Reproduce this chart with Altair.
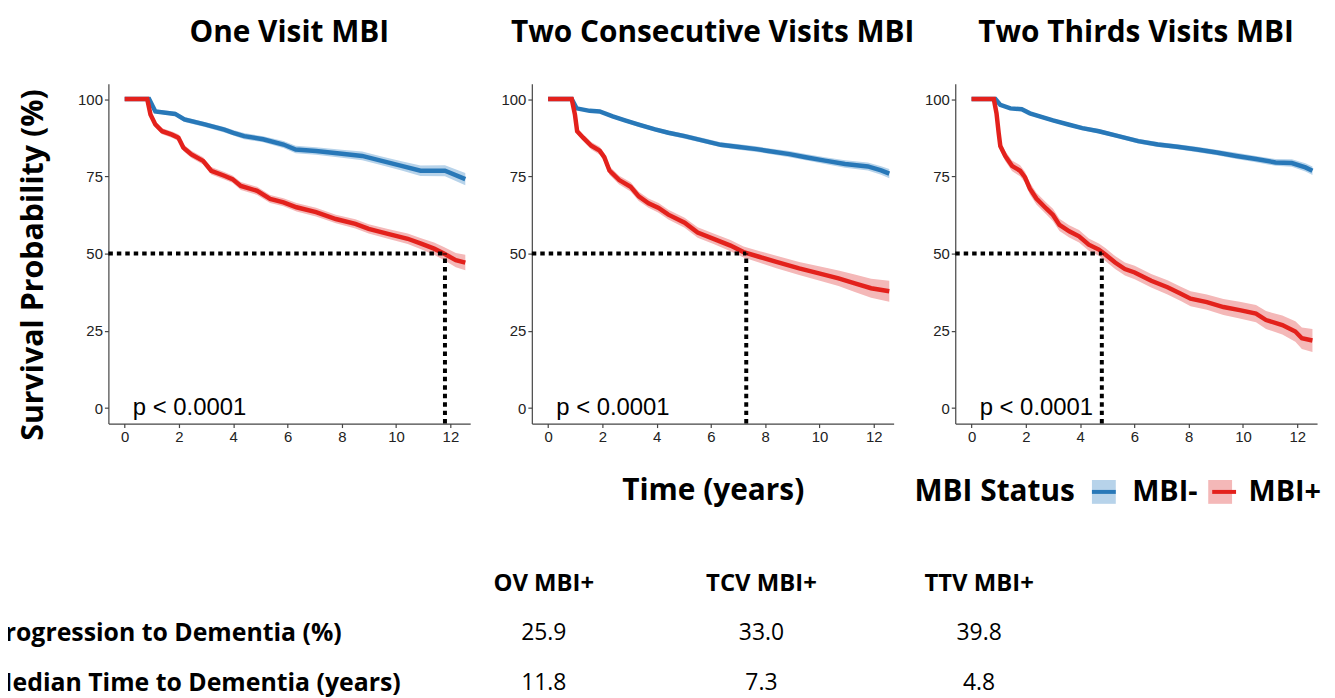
import altair as alt
import pandas as pd

# ---------------- data ----------------
panel_titles = ["One Visit MBI", "Two Consecutive Visits MBI", "Two Thirds Visits MBI"]
status_levels = ["MBI-", "MBI+"]
p_value_labels = ["p < 0.0001", "p < 0.0001", "p < 0.0001"]
median_times = [11.8, 7.3, 4.8]

# Panel 1 : One Visit MBI
p1_neg_t = [0, 0.9, 1.13, 1.86, 2.2, 2.95, 3.67, 4.0, 4.4, 5.1, 5.85, 6.3, 7.05, 8.0, 8.75, 9.47, 10.2, 10.9, 11.8, 12.55]
p1_neg_s = [100, 100, 96, 95.2, 93.4, 91.8, 90.1, 89.1, 88.0, 87.0, 85.3, 83.7, 83.2, 82.3, 81.6, 80.0, 78.4, 76.8, 76.8, 74.1]
p1_neg_ci = [0, 0, 0.6, 0.7, 0.8, 0.8, 0.9, 0.9, 1.0, 1.0, 1.1, 1.2, 1.2, 1.3, 1.4, 1.4, 1.5, 1.7, 1.8, 2.0]
p1_pos_t = [0, 0.83, 0.95, 1.13, 1.38, 1.74, 1.98, 2.16, 2.46, 2.89, 3.19, 3.67, 3.97, 4.28, 4.88, 5.36, 5.85, 6.33, 7.05, 7.78, 8.5, 8.99, 9.7, 10.43, 10.92, 11.4, 11.76, 12.2, 12.55]
p1_pos_s = [100, 100, 95, 91.8, 89.6, 88.5, 87.5, 84.3, 82.1, 80.0, 76.8, 75.2, 74.1, 71.9, 70.3, 67.7, 66.6, 65.0, 63.4, 61.2, 59.6, 58.0, 56.4, 54.8, 53.2, 51.6, 50.0, 47.9, 47.1]
p1_pos_ci = [0, 0, 0.6, 0.8, 1.0, 1.0, 1.1, 1.1, 1.2, 1.2, 1.2, 1.2, 1.2, 1.3, 1.3, 1.3, 1.3, 1.4, 1.4, 1.4, 1.5, 1.5, 1.6, 1.7, 1.8, 2.0, 2.1, 2.3, 2.5]

# Panel 2 : Two Consecutive Visits MBI
p2_neg_t = [0, 0.87, 1.05, 1.53, 1.9, 2.38, 2.86, 3.34, 3.94, 4.43, 5.03, 5.75, 6.36, 6.96, 7.68, 8.05, 8.89, 9.49, 10.2, 10.94, 11.78, 12.27, 12.57]
p2_neg_s = [100, 100, 97, 96.2, 96, 94.4, 93, 91.7, 90.2, 89.1, 88, 86.5, 85.2, 84.6, 83.8, 83.3, 82.2, 81.2, 80.1, 79, 78.2, 76.9, 75.9]
p2_neg_ci = [0, 0, 0.4, 0.5, 0.5, 0.6, 0.6, 0.7, 0.7, 0.7, 0.8, 0.8, 0.8, 0.9, 0.9, 0.9, 1.0, 1.0, 1.1, 1.2, 1.3, 1.4, 1.5]
p2_pos_t = [0, 0.87, 0.99, 1.07, 1.29, 1.59, 1.9, 2.07, 2.26, 2.62, 3.04, 3.34, 3.7, 4.07, 4.43, 5.03, 5.51, 6.12, 6.72, 7.2, 7.8, 8.41, 9.25, 9.98, 10.7, 11.3, 11.9, 12.57]
p2_pos_s = [100, 100, 94.9, 89.6, 87.5, 84.9, 83.3, 81.2, 76.9, 73.8, 71.6, 68.5, 66.3, 64.8, 62.6, 60, 56.8, 54.7, 52.6, 50.5, 48.9, 47.3, 45.2, 43.6, 42, 40.4, 38.8, 37.8]
p2_pos_ci = [0, 0, 0.7, 1.0, 1.1, 1.2, 1.3, 1.3, 1.4, 1.4, 1.5, 1.5, 1.5, 1.6, 1.6, 1.6, 1.7, 1.7, 1.8, 1.8, 1.9, 2.0, 2.1, 2.3, 2.5, 2.8, 3.1, 3.4]

# Panel 3 : Two Thirds Visits MBI
p3_neg_t = [0, 0.88, 1.06, 1.43, 1.85, 2.15, 2.51, 3.0, 3.6, 4.08, 4.69, 5.41, 6.14, 6.86, 7.58, 8.31, 9.03, 9.76, 10.48, 11.2, 11.8, 12.3, 12.56]
p3_neg_s = [100, 100, 98.1, 97, 96.7, 95.4, 94.4, 93.1, 91.7, 90.6, 89.6, 88, 86.4, 85.3, 84.6, 83.7, 82.7, 81.6, 80.6, 79.5, 79.3, 77.9, 76.8]
p3_neg_ci = [0, 0, 0.4, 0.5, 0.5, 0.5, 0.6, 0.6, 0.6, 0.7, 0.7, 0.7, 0.8, 0.8, 0.8, 0.9, 0.9, 1.0, 1.0, 1.1, 1.2, 1.3, 1.4]
p3_pos_t = [0, 0.82, 0.92, 1.0, 1.06, 1.24, 1.49, 1.79, 1.97, 2.15, 2.39, 2.75, 3.0, 3.24, 3.6, 3.96, 4.32, 4.69, 4.93, 5.29, 5.65, 6.01, 6.62, 7.22, 7.71, 8.07, 8.67, 9.28, 9.88, 10.48, 10.85, 11.45, 11.93, 12.17, 12.56]
p3_pos_s = [100, 100, 95.4, 89, 84.8, 81.6, 78.4, 76.8, 74.7, 71, 67.8, 64.6, 62.5, 59.3, 57.2, 55.6, 52.9, 51.3, 49.7, 47.1, 45, 43.9, 41.2, 39.1, 37, 35.4, 34.3, 32.7, 31.7, 30.6, 28.5, 26.9, 24.8, 22.6, 21.9]
p3_pos_ci = [0, 0, 0.8, 1.2, 1.4, 1.6, 1.7, 1.8, 1.8, 1.9, 1.9, 1.9, 2.0, 2.0, 2.0, 2.0, 2.0, 2.0, 2.1, 2.1, 2.1, 2.2, 2.2, 2.3, 2.3, 2.4, 2.5, 2.6, 2.7, 2.8, 2.9, 3.1, 3.3, 3.5, 3.7]

# Summary table
table_headers = ["OV MBI+", "TCV MBI+", "TTV MBI+"]
table_row_labels = ["Progression to Dementia (%)", "Median Time to Dementia (years)"]
progression_pct = ["25.9", "33.0", "39.8"]
median_years = ["11.8", "7.3", "4.8"]

x_ticks = [0, 2, 4, 6, 8, 10, 12]
y_ticks = [0, 25, 50, 75, 100]

# ---------------- styling ----------------
BOLD_FONT = "Open Sans"
TICK_FONT = "Liberation Sans"
LINE_COLORS = ["#2878b8", "#e3211c"]
BAND_COLORS = ["#b7d3ea", "#f4b8b8"]
X_DOM = [-0.6, 12.73]
Y_DOM = [-5, 105]
W, H = 364, 342

curves = [
    [(p1_neg_t, p1_neg_s, p1_neg_ci), (p1_pos_t, p1_pos_s, p1_pos_ci)],
    [(p2_neg_t, p2_neg_s, p2_neg_ci), (p2_pos_t, p2_pos_s, p2_pos_ci)],
    [(p3_neg_t, p3_neg_s, p3_neg_ci), (p3_pos_t, p3_pos_s, p3_pos_ci)],
]

# Legend: light band keys (fill legend) with the curve colour drawn across them (stroke legend)
fill_legend = alt.Legend(
    orient="none", legendX=811, legendY=396, direction="horizontal",
    title="MBI Status", titleOrient="left", titleFont=BOLD_FONT, titleFontSize=30,
    titleFontWeight="bold", titleColor="black", titlePadding=14,
    labelFont=BOLD_FONT, labelFontSize=29, labelFontWeight="bold", labelColor="black",
    labelOffset=14, columnPadding=8, symbolSize=576, symbolType="square",
    symbolStrokeWidth=0, zindex=1,
)
stroke_legend = alt.Legend(
    orient="none", legendX=811, legendY=396, direction="horizontal",
    title="MBI Status", titleOrient="left", titleFont=BOLD_FONT, titleFontSize=30,
    titleFontWeight="bold", titleColor="transparent", titlePadding=14,
    labelExpr="''", labelFontSize=29, labelOffset=14, columnPadding=72,
    symbolSize=576, symbolType="stroke", symbolStrokeWidth=4, zindex=2,
)


def make_panel(i):
    rows = []
    for status, (ts, ss, cis) in zip(status_levels, curves[i]):
        assert len(ts) == len(ss) == len(cis)
        for t, s, c in zip(ts, ss, cis):
            rows.append({"t": t, "S": s, "lo": s - c, "hi": s + c,
                         "status": status, "band_status": status})
    df = pd.DataFrame(rows)

    x_axis = alt.Axis(values=x_ticks, grid=False, labelFont=TICK_FONT, labelFontSize=15,
                      labelColor="#222222", domainColor="#444444", tickColor="#444444",
                      domainWidth=1.2, tickWidth=1.2, tickSize=4, labelPadding=2,
                      title="Time (years)" if i == 1 else None,
                      titleFont=BOLD_FONT, titleFontSize=30, titleFontWeight="bold",
                      titleColor="black", titleBaseline="alphabetic", titleY=76)
    y_axis = alt.Axis(values=y_ticks, grid=False, labelFont=TICK_FONT, labelFontSize=15,
                      labelColor="#222222", domainColor="#444444", tickColor="#444444",
                      domainWidth=1.2, tickWidth=1.2, tickSize=4, labelPadding=2,
                      title="Survival Probability (%)" if i == 0 else None,
                      titleFont=BOLD_FONT, titleFontSize=30.5, titleFontWeight="bold",
                      titleColor="black", titleBaseline="alphabetic", titleAngle=-90,
                      titleX=-66, titleY=182, titleAlign="center")
    xs = alt.Scale(domain=X_DOM, nice=False, zero=False)
    ys = alt.Scale(domain=Y_DOM, nice=False, zero=False)

    band = alt.Chart(df).mark_area(opacity=1).encode(
        x=alt.X("t:Q", scale=xs, axis=x_axis),
        y=alt.Y("lo:Q", scale=ys, axis=y_axis),
        y2="hi:Q",
        fill=alt.Fill("band_status:N", scale=alt.Scale(domain=status_levels, range=BAND_COLORS),
                      legend=fill_legend),
    )
    line = alt.Chart(df).mark_line(strokeWidth=4.5).encode(
        x=alt.X("t:Q", scale=xs, axis=x_axis),
        y=alt.Y("S:Q", scale=ys, axis=y_axis),
        stroke=alt.Stroke("status:N", sort="descending", scale=alt.Scale(range=LINE_COLORS),
                          legend=stroke_legend),
    )
    med = median_times[i]
    hdf = pd.DataFrame({"x0": [X_DOM[0]], "x1": [med], "y0": [50]})
    vdf = pd.DataFrame({"x0": [med], "y0": [Y_DOM[0]], "y1": [50]})
    hrule = alt.Chart(hdf).mark_rule(color="black", strokeWidth=4, strokeDash=[4.5, 4]).encode(
        x=alt.X("x0:Q", scale=xs, axis=x_axis), x2="x1:Q",
        y=alt.Y("y0:Q", scale=ys, axis=y_axis))
    vrule = alt.Chart(vdf).mark_rule(color="black", strokeWidth=4, strokeDash=[4.5, 4]).encode(
        x=alt.X("x0:Q", scale=xs, axis=x_axis),
        y=alt.Y("y0:Q", scale=ys, axis=y_axis), y2="y1:Q")
    pdf = pd.DataFrame({"x": [0.3], "y": [-2.2], "label": [p_value_labels[i]]})
    ptext = alt.Chart(pdf).mark_text(align="left", baseline="alphabetic", font=TICK_FONT,
                                     fontSize=24, color="black").encode(
        x=alt.X("x:Q", scale=xs, axis=x_axis),
        y=alt.Y("y:Q", scale=ys, axis=y_axis), text="label:N")

    return alt.layer(band, line, hrule, vrule, ptext).properties(
        width=W, height=H,
        title=alt.TitleParams(panel_titles[i], font=BOLD_FONT, fontSize=30, fontWeight="bold",
                              color="black", anchor="middle", offset=36),
    )


panels = [make_panel(i) for i in range(3)]

# ---------------- summary table ----------------
tab_rows = ["header", "row1", "row2"]
hdr_df = pd.DataFrame({"col": table_headers, "row": ["header"] * 3, "txt": table_headers})
val_df = pd.DataFrame({"col": table_headers * 2,
                       "row": ["row1"] * 3 + ["row2"] * 3,
                       "txt": progression_pct + median_years})
lab_df = pd.DataFrame({"row": ["row1", "row2"], "txt": table_row_labels})

tx = alt.X("col:N", scale=alt.Scale(type="point", domain=table_headers, range=[438, 876], padding=0),
           axis=None)
ty = alt.Y("row:N", scale=alt.Scale(type="point", domain=tab_rows, padding=0.5), axis=None)

hdr = alt.Chart(hdr_df).mark_text(font=BOLD_FONT, fontSize=24, fontWeight="bold", color="black",
                                  baseline="middle").encode(x=tx, y=ty, text="txt:N")
vals = alt.Chart(val_df).mark_text(font=BOLD_FONT, fontSize=23, color="black",
                                   baseline="middle").encode(x=tx, y=ty, text="txt:N")
labs = alt.Chart(lab_df).mark_text(font=BOLD_FONT, fontSize=25, fontWeight="bold", color="black",
                                   align="left", baseline="middle").encode(
    x=alt.value(-120), y=ty, text="txt:N")
table = alt.layer(hdr, vals, labs).properties(width=1216, height=150)

top = alt.hconcat(*panels, spacing=62, bounds="flush")
chart = alt.vconcat(top, table, spacing=478, bounds="flush").properties(
    autosize=alt.AutoSizeParams(type="none"),
    padding={"left": 101, "top": 74, "right": 1226, "bottom": 616},
).configure_view(stroke=None)

chart.save("out.html", embed_options={"renderer": "svg", "actions": False})
